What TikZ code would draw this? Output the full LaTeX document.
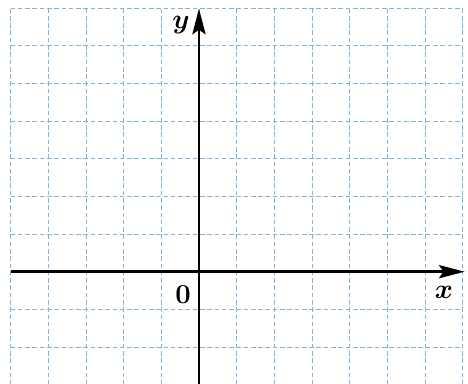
\documentclass[tikz,border=0pt]{standalone}
\usepackage{amsmath}
\usepackage{tikz}
\usetikzlibrary{arrows.meta}
\usepackage{xcolor}
\definecolor{gridblue}{RGB}{130,180,215}
\tikzset{
  gridline/.style={draw=gridblue, line width=0.6pt, dash pattern=on 3.5pt off 2pt},
  axis/.style={-{Stealth[length=6.8mm,width=3.5mm,inset=1.2mm]}, line width=1.9pt},
  axislabel/.style={font=\huge\boldmath, inner sep=0pt}
}
\begin{document}
\begin{tikzpicture}
\useasboundingbox (-5.28,-2.98) rectangle (7.14,7.21);
% grid
\foreach \i in {-5,...,7} \draw[gridline] (\i,-3) -- (\i,7);
\foreach \j in {-3,...,7} \draw[gridline] (-5,\j) -- (7,\j);
% axes
\coordinate (xstart) at (-5,0);
\coordinate (xend) at (7.05,0);
\coordinate (ystart) at (0,-3);
\coordinate (yend) at (0,6.98);
\draw[axis] (xstart) -- (xend);
\draw[axis] (ystart) -- (yend);
\node[axislabel] (xlabel) at (6.5,-0.55) {$x$};
\node[axislabel] (ylabel) at (-0.48,6.55) {$y$};
\node[axislabel] (origin) at (-0.42,-0.6) {$0$};
\end{tikzpicture}
\end{document}
